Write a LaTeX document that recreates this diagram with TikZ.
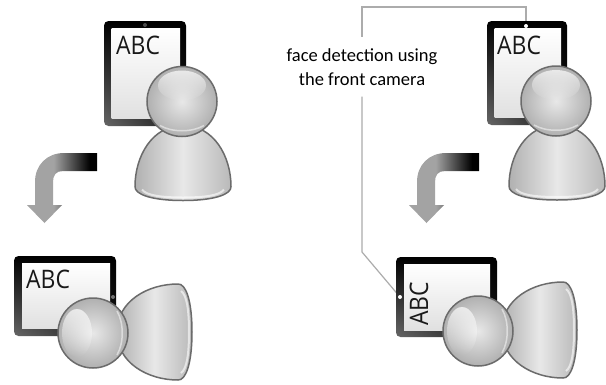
\documentclass[tikz,border=0pt]{standalone}
\usepackage{fontspec}
\setmainfont{Carlito}
\newfontfamily\screenfont[FakeStretch=0.9]{Open Sans}
\usetikzlibrary{fadings,shadings}

% gradient of the turning arrows: grey stem, black tail
\pgfdeclarehorizontalshading{turnshade}{100bp}{%
  color(0bp)=(gray!72); color(44bp)=(gray!72);
  color(70bp)=(black); color(100bp)=(black)}

% gloss on the heads: opaque at the top, clear at the bottom
\tikzfading[name=glossdown, top color=transparent!0, bottom color=transparent!100]

\tikzset{
  x=1pt, y=-1pt,
  bezel/.style={rounded corners=4.5pt, upper left=black, upper right=black,
    lower right=black!92!white, lower left=black!60!white},
  screen/.style={top color=white, bottom color=gray!24},
  screentext/.style={font=\screenfont\fontsize{25.5}{28}\selectfont,
    inner sep=0pt, text=black!90},
  camdot/.style={circle, inner sep=0pt, minimum size=4pt, fill=#1},
  camdot/.default=white,
  headfill/.style={inner color=gray!18, outer color=gray!62},
  bodyfill/.style={left color=gray!62, right color=gray!55, middle color=gray!18},
  personline/.style={draw=black!58, line width=1.5pt},
  turnarrow/.style={shading=turnshade},
  callout/.style={draw=gray!65, line width=1.2pt},
  note/.style={font=\fontsize{18.5}{23.3}\selectfont, align=center,
    inner sep=0pt, minimum height=59pt, minimum width=170pt},
}

% a person: head at #1, body turned by #2 degrees
\newcommand\drawperson[2]{%
  \begin{scope}[shift={#1}, rotate=#2]
    \shade[bodyfill] (1,24) .. controls (-30,24) and (-47,55) .. (-47,85)
      .. controls (-47.5,93) and (-30,99) .. (1,99)
      .. controls (32,99) and (49.5,93) .. (49,85)
      .. controls (49,55) and (32,24) .. cycle;
    \draw[white, line width=2pt, opacity=.6] (-40,88) .. controls (-36,94) and (-20,96) .. (1,96)
      .. controls (22,96) and (38,94) .. (42,88);
    \draw[personline] (1,24) .. controls (-30,24) and (-47,55) .. (-47,85)
      .. controls (-47.5,93) and (-30,99) .. (1,99)
      .. controls (32,99) and (49.5,93) .. (49,85)
      .. controls (49,55) and (32,24) .. cycle;
    \shade[headfill] (0,0) circle (35);
    \fill[white, fill opacity=.7, path fading=glossdown] (0,-16) ellipse (24 and 15);
    \draw[white, line width=1.5pt, opacity=.5] (-22,24) .. controls (-10,31) and (10,31) .. (22,24);
    \draw[personline] (0,0) circle (35);
  \end{scope}}

\begin{document}
\begin{tikzpicture}
\useasboundingbox (0,0) rectangle (606,384);
\clip (0,0) rectangle (606,384);
\fill[white] (0,0) rectangle (606,384);

% callout from the caption to both front cameras
\node[note] (label) at (362,67) {face detection using\\the front camera};
\node[camdot] (camTR) at (526,26) {};
\node[camdot] (camBR) at (400,297) {};
\coordinate (lineTop) at (526,7);
\coordinate (elbow) at (362,252);
\draw[callout] (camTR.center) -- (lineTop) -| (label.north);
\draw[callout] (label.south) -- (elbow) -- (camBR.center);

% upper left: portrait tablet and reader
\shade[bezel] (104,21) rectangle (186,126);
\shade[screen] (111.5,28.5) rectangle (180,118.5);
\node[screentext, anchor=base west] (abcTL) at (116,54.5) {ABC};
\node[camdot=black!70] (camTL) at (145,25) {};
\drawperson{(182,101.5)}{0}

% upper right: portrait tablet and reader
\shade[bezel] (487,21) rectangle (567,125);
\shade[screen] (494.5,28.5) rectangle (561,117.5);
\node[screentext, anchor=base west] (abcTR) at (497,54) {ABC};
\node[camdot] at (camTR) {};
\drawperson{(556,101)}{0}

% turning arrows
\shade[turnarrow] (97,153) -- (64,153) .. controls (47,153) and (35,165) .. (35,182)
  -- (35,205) -- (27,205) -- (44.5,223) -- (62,205) -- (53,205) -- (53,182)
  .. controls (53,175) and (56,171) .. (63,171) -- (97,171) -- cycle;
\shade[turnarrow] (479,153) -- (446,153) .. controls (429,153) and (417,165) .. (417,182)
  -- (417,205) -- (409,205) -- (426.5,223) -- (444,205) -- (435,205) -- (435,182)
  .. controls (435,175) and (438,171) .. (445,171) -- (479,171) -- cycle;

% lower left: landscape tablet, text kept upright
\shade[bezel] (14,256) rectangle (116,336);
\shade[screen] (22,263.5) rectangle (110,328.5);
\node[screentext, anchor=base west] (abcBL) at (26,288) {ABC};
\node[camdot=black!55] (camBL) at (113,297) {};
\drawperson{(93,333)}{90}

% lower right: landscape tablet, text turned with the device
\shade[bezel] (396,257) rectangle (497,337);
\shade[screen] (404,264.5) rectangle (490,330);
\node[screentext, anchor=base west, rotate=90] (abcBR) at (428,326) {ABC};
\node[camdot] at (camBR) {};
\drawperson{(478,331)}{90}
\end{tikzpicture}
\end{document}
